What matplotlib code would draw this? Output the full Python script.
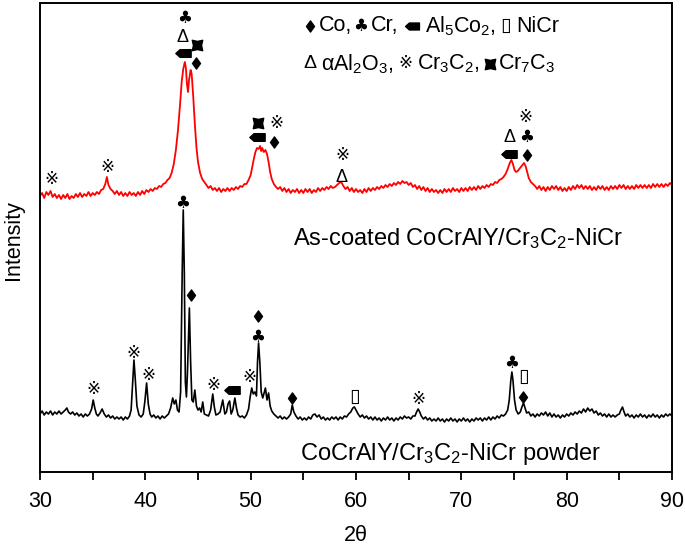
import numpy as np
import matplotlib
matplotlib.use("Agg")
import matplotlib.pyplot as plt
from matplotlib.path import Path

plt.rcParams['font.family'] = ['Liberation Sans', 'DejaVu Sans', 'Noto Sans CJK SC']
plt.rcParams['mathtext.default'] = 'regular'

# ---------------- data (2theta, intensity in arbitrary units) ----------------
coated_pattern = [
    (30.0,276),(30.2,279),(30.4,274),(30.6,280),(30.8,277),(31.0,281),(31.2,275),(31.4,278),(31.6,274),(31.8,277),
    (32.0,273),(32.2,277),(32.4,274),(32.6,278),(32.8,273),(33.0,276),(33.2,274),(33.4,278),(33.6,275),(33.8,279),
    (34.0,275),(34.2,278),(34.4,276),(34.6,280),(34.8,276),(35.0,279),(35.2,277),(35.4,280),(35.6,278),(35.8,282),
    (36.0,283),(36.2,288),(36.35,295),(36.5,287),(36.7,283),(36.9,281),
    (37.1,278),(37.3,281),(37.5,277),(37.7,280),(37.9,276),(38.1,279),(38.3,276),(38.5,280),(38.7,277),(38.9,279),
    (39.1,276),(39.3,280),(39.5,277),(39.7,281),(39.9,278),(40.1,282),(40.3,280),(40.5,283),(40.7,281),(40.9,284),
    (41.1,283),(41.3,286),(41.5,285),(41.7,288),(41.9,289),(42.1,292),
    (42.3,294),(42.5,299),(42.7,308),(42.9,322),(43.1,342),(43.3,368),(43.45,390),(43.6,403),(43.75,410),(43.85,404),
    (43.95,388),(44.05,380),(44.15,392),(44.3,402),(44.4,398),(44.55,375),(44.7,348),(44.85,325),(45.0,310),(45.2,299),
    (45.4,293),(45.6,290),(45.8,287),
    (46.0,284),(46.2,286),(46.4,282),(46.6,284),(46.8,281),(47.0,284),(47.2,280),(47.4,283),(47.6,281),(47.8,284),
    (48.0,281),(48.2,284),(48.4,282),(48.6,285),(48.8,283),(49.0,286),(49.2,285),(49.4,288),(49.6,288),(49.8,292),
    (50.0,297),(50.15,305),(50.3,313),(50.45,320),(50.6,324),(50.75,323),(50.9,326),(51.0,321),(51.1,324),(51.25,320),
    (51.4,322),(51.55,318),(51.7,310),(51.85,300),(52.0,293),(52.2,288),(52.4,285),
    (52.6,283),(52.8,285),(53.0,281),(53.2,284),(53.4,280),(53.6,283),(53.8,279),(54.0,282),(54.2,280),(54.4,283),
    (54.6,279),(54.8,282),(55.0,279),(55.2,283),(55.4,280),(55.6,283),(55.8,279),(56.0,282),(56.2,280),(56.4,284),
    (56.6,281),(56.8,284),(57.0,282),(57.2,285),(57.4,283),(57.6,286),(57.8,284),
    (58.0,285),(58.2,287),(58.4,289),(58.6,290),(58.8,286),(59.0,283),
    (59.2,285),(59.4,281),(59.6,284),(59.8,280),(60.0,283),(60.2,280),(60.4,282),(60.6,279),(60.8,283),(61.0,280),
    (61.2,284),(61.4,281),(61.6,284),(61.8,282),(62.0,285),(62.2,283),(62.4,286),(62.6,284),(62.8,287),(63.0,285),
    (63.2,288),(63.4,286),(63.6,289),(63.8,287),(64.0,290),(64.2,288),(64.4,291),(64.6,289),(64.8,290),(65.0,287),
    (65.2,289),(65.4,285),(65.6,287),(65.8,283),(66.0,286),(66.2,282),(66.4,285),(66.6,281),(66.8,284),(67.0,280),
    (67.2,283),(67.4,280),(67.6,282),(67.8,279),(68.0,282),(68.2,279),(68.4,283),(68.6,280),(68.8,283),(69.0,280),
    (69.2,284),(69.4,281),(69.6,283),(69.8,280),(70.0,284),(70.2,281),(70.4,284),(70.6,281),(70.8,285),(71.0,282),
    (71.2,285),(71.4,282),(71.6,286),(71.8,283),(72.0,286),(72.2,284),(72.4,287),(72.6,285),(72.8,288),(73.0,287),
    (73.2,290),(73.4,289),(73.6,292),(73.8,293),
    (74.0,295),(74.2,298),(74.4,303),(74.6,309),(74.75,312),(74.9,308),(75.05,302),(75.2,300),(75.35,301),(75.5,303),
    (75.65,305),(75.8,307),(75.95,309),(76.1,306),(76.25,300),(76.4,294),(76.6,290),(76.8,288),
    (77.0,286),(77.2,283),(77.4,286),(77.6,282),(77.8,285),(78.0,281),(78.2,285),(78.4,282),(78.6,286),(78.8,283),
    (79.0,286),(79.2,282),(79.4,285),(79.6,281),(79.8,284),(80.0,281),(80.2,285),(80.4,282),(80.6,286),(80.8,283),
    (81.0,287),(81.2,284),(81.4,287),(81.6,283),(81.8,286),(82.0,283),(82.2,286),(82.4,282),(82.6,285),(82.8,282),
    (83.0,286),(83.2,283),(83.4,286),(83.6,282),(83.8,285),(84.0,282),(84.2,286),(84.4,283),(84.6,286),(84.8,283),
    (85.0,287),(85.2,284),(85.4,287),(85.6,283),(85.8,286),(86.0,283),(86.2,286),(86.4,283),(86.6,287),(86.8,284),
    (87.0,287),(87.2,284),(87.4,287),(87.6,284),(87.8,287),(88.0,284),(88.2,288),(88.4,285),(88.6,288),(88.8,285),
    (89.0,288),(89.2,285),(89.4,288),(89.6,286),(89.8,289),(90.0,287),
]

powder_pattern = [
    (30.0,58),(30.2,61),(30.4,57),(30.6,60),(30.8,58),(31.0,61),(31.2,57),(31.4,60),(31.6,58),(31.8,61),
    (32.0,58),(32.2,60),(32.4,62),(32.55,64),(32.7,60),(32.9,58),(33.1,60),(33.3,57),(33.5,59),(33.7,56),
    (33.9,58),(34.1,55),(34.3,58),(34.5,56),(34.7,58),(34.9,63),(35.05,72),(35.2,64),(35.35,58),(35.5,56),
    (35.7,59),(35.9,63),(36.1,58),(36.3,55),(36.5,57),(36.7,54),(36.9,56),(37.1,53),(37.3,55),(37.5,53),
    (37.7,55),(37.9,52),(38.1,55),(38.3,53),(38.5,56),(38.65,62),(38.8,90),(38.92,112),(39.05,92),(39.2,66),
    (39.4,57),(39.6,55),(39.8,58),(39.95,70),(40.12,89),(40.28,68),(40.45,58),(40.6,55),(40.8,57),(41.0,54),
    (41.2,56),(41.4,53),(41.6,56),(41.8,54),(42.0,56),(42.2,58),(42.4,64),(42.6,74),(42.75,68),(42.9,72),
    (43.05,62),(43.2,60),(43.35,80),(43.5,200),(43.6,262),(43.7,200),(43.8,90),(43.9,75),(44.0,100),(44.18,164),
    (44.3,110),(44.42,72),(44.55,70),(44.7,82),(44.85,66),(45.0,62),(45.15,64),(45.3,60),(45.45,70),(45.6,58),
    (45.8,57),(46.0,56),(46.2,62),(46.4,78),(46.55,65),(46.7,57),(46.9,58),(47.1,60),(47.35,72),(47.55,58),
    (47.7,60),(47.85,68),(48.0,71),(48.15,58),(48.3,62),(48.5,74),(48.65,64),(48.8,57),(49.0,55),(49.2,56),
    (49.4,54),(49.6,57),(49.8,63),(49.95,75),(50.1,84),(50.25,78),(50.4,80),(50.55,76),(50.65,110),(50.75,129),
    (50.87,110),(51.0,80),(51.15,74),(51.3,80),(51.4,84),(51.55,72),(51.7,79),(51.85,66),(52.0,61),(52.2,58),
    (52.4,56),(52.6,54),(52.8,56),(53.0,53),(53.2,55),(53.4,53),(53.6,55),(53.8,58),(53.95,67),(54.1,60),
    (54.3,56),(54.5,53),(54.7,55),(54.9,52),(55.1,54),(55.3,52),(55.5,55),(55.7,53),(55.9,57),(56.1,58),
    (56.3,55),(56.5,57),(56.7,53),(56.9,55),(57.1,52),(57.3,54),(57.5,52),(57.7,55),(57.9,53),(58.1,55),
    (58.3,52),(58.5,55),(58.7,53),(58.9,56),(59.1,55),(59.3,58),(59.5,60),(59.7,64),(59.85,65),(60.0,62),
    (60.2,58),(60.4,55),(60.6,57),(60.8,54),(61.0,56),(61.2,53),(61.4,55),(61.6,52),(61.8,55),(62.0,52),
    (62.2,54),(62.4,51),(62.6,54),(62.8,52),(63.0,55),(63.2,52),(63.4,54),(63.6,51),(63.8,54),(64.0,52),
    (64.2,55),(64.4,53),(64.6,56),(64.8,54),(65.0,55),(65.2,53),(65.4,56),(65.6,56),(65.75,60),(65.9,63),
    (66.05,60),(66.2,56),(66.4,53),(66.6,55),(66.8,52),(67.0,54),(67.2,51),(67.4,53),(67.6,51),(67.8,54),
    (68.0,51),(68.2,53),(68.4,50),(68.6,53),(68.8,51),(69.0,54),(69.2,51),(69.4,53),(69.6,50),(69.8,53),
    (70.0,51),(70.2,54),(70.4,51),(70.6,53),(70.8,50),(71.0,53),(71.2,51),(71.4,54),(71.6,52),(71.8,54),
    (72.0,51),(72.2,54),(72.4,52),(72.6,55),(72.8,52),(73.0,55),(73.2,53),(73.4,56),(73.6,54),(73.8,57),
    (74.0,56),(74.2,58),(74.4,62),(74.55,72),(74.7,92),(74.8,100),(74.9,92),(75.05,72),(75.2,62),(75.4,58),
    (75.6,60),(75.75,65),(75.9,69),(76.05,64),(76.2,59),(76.4,60),(76.6,56),(76.8,58),(77.0,55),(77.2,58),
    (77.4,56),(77.6,59),(77.8,57),(78.0,60),(78.2,56),(78.4,59),(78.6,55),(78.8,58),(79.0,55),(79.2,57),
    (79.4,54),(79.6,57),(79.8,55),(80.0,58),(80.2,56),(80.4,59),(80.6,57),(80.8,60),(81.0,58),(81.2,61),
    (81.4,59),(81.6,63),(81.8,60),(82.0,64),(82.2,61),(82.4,63),(82.6,59),(82.8,61),(83.0,57),(83.2,59),
    (83.4,56),(83.6,58),(83.8,55),(84.0,58),(84.2,55),(84.4,57),(84.6,55),(84.8,57),(85.0,58),(85.15,62),
    (85.3,65),(85.45,60),(85.6,56),(85.8,58),(86.0,55),(86.2,57),(86.4,54),(86.6,57),(86.8,55),(87.0,58),
    (87.2,55),(87.4,57),(87.6,54),(87.8,57),(88.0,55),(88.2,58),(88.4,55),(88.6,57),(88.8,54),(89.0,57),
    (89.2,55),(89.4,58),(89.6,56),(89.8,58),(90.0,56),
]

# phase annotations: (symbol key, 2theta, intensity)
coated_marks = [
    ('Cr3C2', 31.1, 292), ('Cr3C2', 36.4, 304),
    ('Cr', 43.77, 454), ('Al2O3', 43.49, 434), ('Cr7C3', 44.9, 427), ('Al5Co2', 43.6, 419), ('Co', 44.8, 409),
    ('Cr7C3', 50.7, 349), ('Cr3C2', 52.4, 349), ('Al5Co2', 50.6, 335), ('Co', 52.2, 330),
    ('Cr3C2', 58.67, 317), ('Al2O3', 58.67, 295),
    ('Cr3C2', 76.05, 354), ('Al2O3', 74.6, 334), ('Cr', 76.2, 335), ('Al5Co2', 74.5, 318), ('Co', 76.2, 317),
]
powder_marks = [
    ('Cr3C2', 35.03, 83), ('Cr3C2', 38.83, 119), ('Cr3C2', 40.25, 97),
    ('Cr', 43.58, 269), ('Co', 44.34, 177),
    ('Cr3C2', 46.43, 86), ('Al5Co2', 48.2, 82), ('Cr3C2', 49.84, 94),
    ('Co', 50.7, 156), ('Cr', 50.7, 135), ('Co', 53.9, 74),
    ('NiCr', 59.9, 75), ('Cr3C2', 65.9, 73),
    ('Cr', 74.8, 109), ('NiCr', 75.95, 95), ('Co', 75.86, 75),
]

coated_label = 'As-coated CoCrAlY/Cr$_3$C$_2$-NiCr'
powder_label = 'CoCrAlY/Cr$_3$C$_2$-NiCr powder'
x_ticks = [30, 40, 50, 60, 70, 80, 90]

# ---------------- symbols ----------------
FAM = ['Liberation Sans', 'DejaVu Sans', 'Noto Sans CJK SC']
tag_path = Path([(-1.0, 0.0), (-0.45, 0.5), (1.0, 0.5), (1.0, -0.5), (-0.45, -0.5), (-1.0, 0.0)],
                [Path.MOVETO, Path.LINETO, Path.LINETO, Path.LINETO, Path.LINETO, Path.CLOSEPOLY])
cc_path = Path([(1, 1), (0, 0.78), (-1, 1), (-0.78, 0), (-1, -1), (0, -0.78), (1, -1), (0.78, 0), (1, 1)],
               [Path.MOVETO] + [Path.LINETO] * 7 + [Path.CLOSEPOLY])
dia_path = Path([(0, 1), (0.72, 0), (0, -1), (-0.72, 0), (0, 1)],
                [Path.MOVETO, Path.LINETO, Path.LINETO, Path.LINETO, Path.CLOSEPOLY])
text_syms = {'Cr': ('\u2663', 12), 'Al2O3': ('\u0394', 13),
             'Cr3C2': ('\u203b', 12), 'NiCr': ('\u25af', 14)}
marker_syms = {'Al5Co2': (tag_path, 11), 'Cr7C3': (cc_path, 7.5), 'Co': (dia_path, 8)}

fig = plt.figure(figsize=(6.85, 5.47), dpi=100)
ax = fig.add_axes([40 / 685, 1 - 472 / 547, 632 / 685, 469 / 547])

x1, y1 = zip(*coated_pattern)
x2, y2 = zip(*powder_pattern)
ax.plot(x1, y1, color='#ff0000', lw=1.3)
ax.plot(x2, y2, color='black', lw=1.2)


def put_symbol(key, x, y, transform):
    if key in text_syms:
        s, fs = text_syms[key]
        fam = ['DejaVu Sans'] + FAM if key == 'Cr' else FAM
        ax.text(x, y, s, transform=transform, ha='center', va='center', fontsize=fs,
                family=fam, color='black')
    else:
        p, ms = marker_syms[key]
        ax.plot([x], [y], marker=p, markersize=ms, color='black', linestyle='none',
                transform=transform, clip_on=False)


for k, x, y in coated_marks + powder_marks:
    put_symbol(k, x, y, ax.transData)

ax.set_xlim(30, 90)
ax.set_ylim(0, 469)
ax.set_xticks(x_ticks)
ax.set_xticks(np.arange(35, 90, 10), minor=True)
ax.set_yticks([])
ax.tick_params(axis='x', which='both', direction='out', length=6, width=1.3, labelsize=15.5, pad=8)
for sp in ax.spines.values():
    sp.set_linewidth(1.4)

ax.set_xlabel('2\u03b8', fontsize=15.5, labelpad=9)
fig.text(13 / 685, 1 - 240 / 547, 'Intensity', rotation=90, ha='center', va='center', fontsize=15.5)

ax.text((293 - 40) / 632, (472 - 245) / 469, coated_label, transform=ax.transAxes,
        fontsize=17, ha='left', va='baseline')
ax.text((300 - 40) / 632, (472 - 460) / 469, powder_label, transform=ax.transAxes,
        fontsize=17, ha='left', va='baseline')

# ---------------- legend rows ----------------
renderer = fig.canvas.get_renderer()


def run(items, x0, y0):
    xd, yd = ax.transAxes.transform((x0, y0))
    for kind, val, fs_or_ms, gap in items:
        xa, ya = ax.transAxes.inverted().transform((xd, yd))
        if kind == 't':
            fam = ['DejaVu Sans'] + FAM if val == '\u2663' else FAM
            t = ax.text(xa, ya, val, transform=ax.transAxes, fontsize=fs_or_ms, family=fam,
                        ha='left', va='center')
            bb = t.get_window_extent(renderer)
            xd = bb.x1 + gap
        else:
            ext = val.vertices
            wx = np.ptp(ext[:, 0])
            aspect = wx / max(wx, np.ptp(ext[:, 1]))
            w = fs_or_ms * 100 / 72 * aspect
            xa, ya = ax.transAxes.inverted().transform((xd + w / 2, yd))
            ax.plot([xa], [ya], marker=val, markersize=fs_or_ms, color='black', linestyle='none',
                    transform=ax.transAxes, clip_on=False)
            xd = xd + w + gap


row1_y = (472 - 26) / 469
row2_y = (472 - 64) / 469
run([('m', dia_path, 8, 5), ('t', 'Co,', 15.5, 1), ('t', '\u2663', 12, 3), ('t', 'Cr,', 15.5, 6),
     ('m', tag_path, 10, 6), ('t', 'Al$_5$Co$_2$,', 15.5, 5), ('t', '\u25af', 14, 5), ('t', 'NiCr', 15.5, 0)],
    (306 - 40) / 632, row1_y)
run([('t', '\u0394', 14, 5), ('t', '\u03b1Al$_2$O$_3$,', 15.5, 5), ('t', '\u203b', 12, 4),
     ('t', 'Cr$_3$C$_2$,', 15.5, 5), ('m', cc_path, 7.5, 3), ('t', 'Cr$_7$C$_3$', 15.5, 0)],
    (303 - 40) / 632, row2_y)

fig.savefig('out.png', dpi=100)
